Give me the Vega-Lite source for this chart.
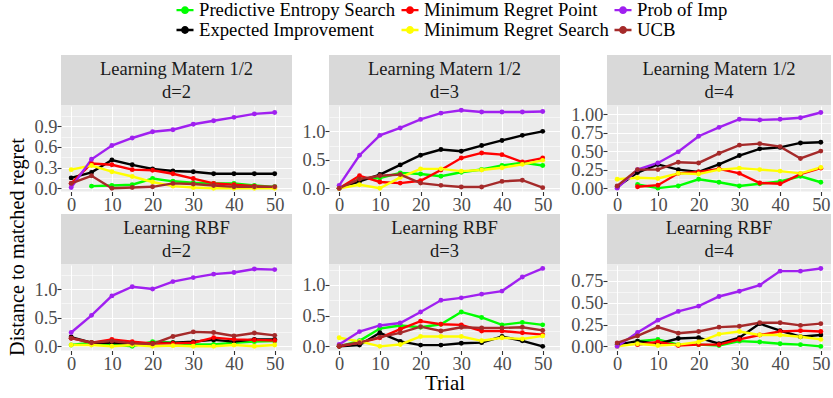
{
"$schema": "https://vega.github.io/schema/vega-lite/v6.json",
"autosize": {"type": "pad"},
"padding": {"left": 7, "top": 0, "right": 0, "bottom": 0},
"background": "#FFFFFF",
"config": {
  "font": "Liberation Serif",
  "view": {"stroke": null},
  "axis": {"domain": false, "grid": true, "gridColor": "#FFFFFF", "tickColor": "#333333", "tickSize": 4, "tickWidth": 1.1, "labelFont": "Liberation Serif", "labelFontSize": 18.4, "labelColor": "#4D4D4D", "labelPadding": 0, "labelFlush": false, "labelOverlap": false, "labelBound": false, "titleFont": "Liberation Serif", "titleFontWeight": "normal", "titleColor": "#000000", "titleFontSize": 21},
  "legend": {"orient": "none", "legendX": 168, "legendY": -55, "columns": 3, "gridAlign": "each", "columnPadding": 0, "rowPadding": 0, "labelFont": "Liberation Serif", "labelFontSize": 18.7, "labelColor": "#000000", "labelOffset": 4, "labelLimit": 0, "padding": 0, "symbolSize": 289, "symbolStrokeWidth": 2.4, "symbolType": "M-1,0L1,0M-0.32,0A0.32,0.32,0,1,1,0.32,0A0.32,0.32,0,1,1,-0.32,0Z"}
},
"data": {"values": [
{"p":"M2","m":"PES","t":5,"v":0.03},{"p":"M2","m":"PES","t":10,"v":0.04},{"p":"M2","m":"PES","t":15,"v":0.05},{"p":"M2","m":"PES","t":20,"v":0.14},{"p":"M2","m":"PES","t":25,"v":0.10},{"p":"M2","m":"PES","t":30,"v":0.08},{"p":"M2","m":"PES","t":35,"v":0.07},{"p":"M2","m":"PES","t":40,"v":0.07},{"p":"M2","m":"PES","t":45,"v":0.04},{"p":"M2","m":"PES","t":50,"v":0.02},
{"p":"M2","m":"EI","t":0,"v":0.15},{"p":"M2","m":"EI","t":5,"v":0.23},{"p":"M2","m":"EI","t":10,"v":0.41},{"p":"M2","m":"EI","t":15,"v":0.34},{"p":"M2","m":"EI","t":20,"v":0.28},{"p":"M2","m":"EI","t":25,"v":0.25},{"p":"M2","m":"EI","t":30,"v":0.24},{"p":"M2","m":"EI","t":35,"v":0.21},{"p":"M2","m":"EI","t":40,"v":0.21},{"p":"M2","m":"EI","t":45,"v":0.21},{"p":"M2","m":"EI","t":50,"v":0.21},
{"p":"M2","m":"MRP","t":0,"v":0.07},{"p":"M2","m":"MRP","t":5,"v":0.36},{"p":"M2","m":"MRP","t":10,"v":0.34},{"p":"M2","m":"MRP","t":15,"v":0.27},{"p":"M2","m":"MRP","t":20,"v":0.26},{"p":"M2","m":"MRP","t":25,"v":0.21},{"p":"M2","m":"MRP","t":30,"v":0.14},{"p":"M2","m":"MRP","t":35,"v":0.07},{"p":"M2","m":"MRP","t":40,"v":0.05},{"p":"M2","m":"MRP","t":45,"v":0.03},{"p":"M2","m":"MRP","t":50,"v":0.01},
{"p":"M2","m":"MRS","t":0,"v":0.27},{"p":"M2","m":"MRS","t":5,"v":0.33},{"p":"M2","m":"MRS","t":10,"v":0.24},{"p":"M2","m":"MRS","t":15,"v":0.17},{"p":"M2","m":"MRS","t":20,"v":0.09},{"p":"M2","m":"MRS","t":25,"v":0.03},{"p":"M2","m":"MRS","t":30,"v":0.01},{"p":"M2","m":"MRS","t":35,"v":0.0},{"p":"M2","m":"MRS","t":40,"v":0.0},{"p":"M2","m":"MRS","t":45,"v":0.0},{"p":"M2","m":"MRS","t":50,"v":0.0},
{"p":"M2","m":"PI","t":0,"v":0.01},{"p":"M2","m":"PI","t":5,"v":0.42},{"p":"M2","m":"PI","t":10,"v":0.62},{"p":"M2","m":"PI","t":15,"v":0.73},{"p":"M2","m":"PI","t":20,"v":0.82},{"p":"M2","m":"PI","t":25,"v":0.85},{"p":"M2","m":"PI","t":30,"v":0.93},{"p":"M2","m":"PI","t":35,"v":0.98},{"p":"M2","m":"PI","t":40,"v":1.03},{"p":"M2","m":"PI","t":45,"v":1.08},{"p":"M2","m":"PI","t":50,"v":1.10},
{"p":"M2","m":"UCB","t":0,"v":0.07},{"p":"M2","m":"UCB","t":5,"v":0.18},{"p":"M2","m":"UCB","t":10,"v":0.0},{"p":"M2","m":"UCB","t":15,"v":0.01},{"p":"M2","m":"UCB","t":20,"v":0.02},{"p":"M2","m":"UCB","t":25,"v":0.07},{"p":"M2","m":"UCB","t":30,"v":0.06},{"p":"M2","m":"UCB","t":35,"v":0.04},{"p":"M2","m":"UCB","t":40,"v":0.02},{"p":"M2","m":"UCB","t":45,"v":0.02},{"p":"M2","m":"UCB","t":50,"v":0.02},

{"p":"M3","m":"PES","t":0,"v":0.0},{"p":"M3","m":"PES","t":5,"v":0.16},{"p":"M3","m":"PES","t":10,"v":0.18},{"p":"M3","m":"PES","t":15,"v":0.27},{"p":"M3","m":"PES","t":20,"v":0.25},{"p":"M3","m":"PES","t":25,"v":0.21},{"p":"M3","m":"PES","t":30,"v":0.28},{"p":"M3","m":"PES","t":35,"v":0.33},{"p":"M3","m":"PES","t":40,"v":0.40},{"p":"M3","m":"PES","t":45,"v":0.45},{"p":"M3","m":"PES","t":50,"v":0.40},
{"p":"M3","m":"EI","t":0,"v":0.0},{"p":"M3","m":"EI","t":5,"v":0.12},{"p":"M3","m":"EI","t":10,"v":0.24},{"p":"M3","m":"EI","t":15,"v":0.41},{"p":"M3","m":"EI","t":20,"v":0.58},{"p":"M3","m":"EI","t":25,"v":0.68},{"p":"M3","m":"EI","t":30,"v":0.65},{"p":"M3","m":"EI","t":35,"v":0.75},{"p":"M3","m":"EI","t":40,"v":0.84},{"p":"M3","m":"EI","t":45,"v":0.93},{"p":"M3","m":"EI","t":50,"v":1.0},
{"p":"M3","m":"MRP","t":0,"v":0.0},{"p":"M3","m":"MRP","t":5,"v":0.22},{"p":"M3","m":"MRP","t":10,"v":0.11},{"p":"M3","m":"MRP","t":15,"v":0.09},{"p":"M3","m":"MRP","t":20,"v":0.13},{"p":"M3","m":"MRP","t":25,"v":0.32},{"p":"M3","m":"MRP","t":30,"v":0.53},{"p":"M3","m":"MRP","t":35,"v":0.62},{"p":"M3","m":"MRP","t":40,"v":0.59},{"p":"M3","m":"MRP","t":45,"v":0.46},{"p":"M3","m":"MRP","t":50,"v":0.53},
{"p":"M3","m":"MRS","t":0,"v":0.0},{"p":"M3","m":"MRS","t":5,"v":0.06},{"p":"M3","m":"MRS","t":10,"v":0.0},{"p":"M3","m":"MRS","t":15,"v":0.19},{"p":"M3","m":"MRS","t":20,"v":0.34},{"p":"M3","m":"MRS","t":25,"v":0.34},{"p":"M3","m":"MRS","t":30,"v":0.30},{"p":"M3","m":"MRS","t":35,"v":0.32},{"p":"M3","m":"MRS","t":40,"v":0.36},{"p":"M3","m":"MRS","t":45,"v":0.42},{"p":"M3","m":"MRS","t":50,"v":0.49},
{"p":"M3","m":"PI","t":0,"v":0.05},{"p":"M3","m":"PI","t":5,"v":0.58},{"p":"M3","m":"PI","t":10,"v":0.93},{"p":"M3","m":"PI","t":15,"v":1.06},{"p":"M3","m":"PI","t":20,"v":1.21},{"p":"M3","m":"PI","t":25,"v":1.32},{"p":"M3","m":"PI","t":30,"v":1.37},{"p":"M3","m":"PI","t":35,"v":1.34},{"p":"M3","m":"PI","t":40,"v":1.34},{"p":"M3","m":"PI","t":45,"v":1.34},{"p":"M3","m":"PI","t":50,"v":1.35},
{"p":"M3","m":"UCB","t":0,"v":0.0},{"p":"M3","m":"UCB","t":5,"v":0.16},{"p":"M3","m":"UCB","t":10,"v":0.22},{"p":"M3","m":"UCB","t":15,"v":0.24},{"p":"M3","m":"UCB","t":20,"v":0.09},{"p":"M3","m":"UCB","t":25,"v":0.05},{"p":"M3","m":"UCB","t":30,"v":0.02},{"p":"M3","m":"UCB","t":35,"v":0.02},{"p":"M3","m":"UCB","t":40,"v":0.12},{"p":"M3","m":"UCB","t":45,"v":0.14},{"p":"M3","m":"UCB","t":50,"v":0.01},

{"p":"M4","m":"PES","t":5,"v":0.05},{"p":"M4","m":"PES","t":10,"v":0.0},{"p":"M4","m":"PES","t":15,"v":0.03},{"p":"M4","m":"PES","t":20,"v":0.12},{"p":"M4","m":"PES","t":25,"v":0.08},{"p":"M4","m":"PES","t":30,"v":0.03},{"p":"M4","m":"PES","t":35,"v":0.06},{"p":"M4","m":"PES","t":40,"v":0.09},{"p":"M4","m":"PES","t":45,"v":0.16},{"p":"M4","m":"PES","t":50,"v":0.08},
{"p":"M4","m":"EI","t":0,"v":0.02},{"p":"M4","m":"EI","t":5,"v":0.21},{"p":"M4","m":"EI","t":10,"v":0.32},{"p":"M4","m":"EI","t":15,"v":0.25},{"p":"M4","m":"EI","t":20,"v":0.22},{"p":"M4","m":"EI","t":25,"v":0.32},{"p":"M4","m":"EI","t":30,"v":0.44},{"p":"M4","m":"EI","t":35,"v":0.53},{"p":"M4","m":"EI","t":40,"v":0.55},{"p":"M4","m":"EI","t":45,"v":0.61},{"p":"M4","m":"EI","t":50,"v":0.62},
{"p":"M4","m":"MRP","t":5,"v":0.02},{"p":"M4","m":"MRP","t":10,"v":0.04},{"p":"M4","m":"MRP","t":15,"v":0.20},{"p":"M4","m":"MRP","t":20,"v":0.22},{"p":"M4","m":"MRP","t":25,"v":0.26},{"p":"M4","m":"MRP","t":30,"v":0.20},{"p":"M4","m":"MRP","t":35,"v":0.07},{"p":"M4","m":"MRP","t":40,"v":0.06},{"p":"M4","m":"MRP","t":45,"v":0.19},{"p":"M4","m":"MRP","t":50,"v":0.27},
{"p":"M4","m":"MRS","t":0,"v":0.12},{"p":"M4","m":"MRS","t":5,"v":0.14},{"p":"M4","m":"MRS","t":10,"v":0.13},{"p":"M4","m":"MRS","t":15,"v":0.20},{"p":"M4","m":"MRS","t":20,"v":0.19},{"p":"M4","m":"MRS","t":25,"v":0.25},{"p":"M4","m":"MRS","t":30,"v":0.27},{"p":"M4","m":"MRS","t":35,"v":0.25},{"p":"M4","m":"MRS","t":40,"v":0.23},{"p":"M4","m":"MRS","t":45,"v":0.20},{"p":"M4","m":"MRS","t":50,"v":0.28},
{"p":"M4","m":"PI","t":0,"v":0.0},{"p":"M4","m":"PI","t":5,"v":0.25},{"p":"M4","m":"PI","t":10,"v":0.34},{"p":"M4","m":"PI","t":15,"v":0.49},{"p":"M4","m":"PI","t":20,"v":0.70},{"p":"M4","m":"PI","t":25,"v":0.82},{"p":"M4","m":"PI","t":30,"v":0.93},{"p":"M4","m":"PI","t":35,"v":0.92},{"p":"M4","m":"PI","t":40,"v":0.93},{"p":"M4","m":"PI","t":45,"v":0.95},{"p":"M4","m":"PI","t":50,"v":1.02},
{"p":"M4","m":"UCB","t":0,"v":0.03},{"p":"M4","m":"UCB","t":5,"v":0.25},{"p":"M4","m":"UCB","t":10,"v":0.25},{"p":"M4","m":"UCB","t":15,"v":0.35},{"p":"M4","m":"UCB","t":20,"v":0.34},{"p":"M4","m":"UCB","t":25,"v":0.47},{"p":"M4","m":"UCB","t":30,"v":0.58},{"p":"M4","m":"UCB","t":35,"v":0.60},{"p":"M4","m":"UCB","t":40,"v":0.56},{"p":"M4","m":"UCB","t":45,"v":0.40},{"p":"M4","m":"UCB","t":50,"v":0.50},

{"p":"R2","m":"PES","t":0,"v":0.02},{"p":"R2","m":"PES","t":5,"v":0.06},{"p":"R2","m":"PES","t":10,"v":0.03},{"p":"R2","m":"PES","t":15,"v":0.0},{"p":"R2","m":"PES","t":20,"v":0.08},{"p":"R2","m":"PES","t":25,"v":0.06},{"p":"R2","m":"PES","t":30,"v":0.03},{"p":"R2","m":"PES","t":35,"v":0.03},{"p":"R2","m":"PES","t":40,"v":0.06},{"p":"R2","m":"PES","t":45,"v":0.08},{"p":"R2","m":"PES","t":50,"v":0.09},
{"p":"R2","m":"EI","t":0,"v":0.16},{"p":"R2","m":"EI","t":5,"v":0.06},{"p":"R2","m":"EI","t":10,"v":0.06},{"p":"R2","m":"EI","t":15,"v":0.04},{"p":"R2","m":"EI","t":20,"v":0.05},{"p":"R2","m":"EI","t":25,"v":0.06},{"p":"R2","m":"EI","t":30,"v":0.08},{"p":"R2","m":"EI","t":35,"v":0.11},{"p":"R2","m":"EI","t":40,"v":0.08},{"p":"R2","m":"EI","t":45,"v":0.12},{"p":"R2","m":"EI","t":50,"v":0.12},
{"p":"R2","m":"MRP","t":0,"v":0.14},{"p":"R2","m":"MRP","t":5,"v":0.06},{"p":"R2","m":"MRP","t":10,"v":0.12},{"p":"R2","m":"MRP","t":15,"v":0.08},{"p":"R2","m":"MRP","t":20,"v":0.05},{"p":"R2","m":"MRP","t":25,"v":0.05},{"p":"R2","m":"MRP","t":30,"v":0.06},{"p":"R2","m":"MRP","t":35,"v":0.15},{"p":"R2","m":"MRP","t":40,"v":0.12},{"p":"R2","m":"MRP","t":45,"v":0.11},{"p":"R2","m":"MRP","t":50,"v":0.10},
{"p":"R2","m":"MRS","t":0,"v":0.02},{"p":"R2","m":"MRS","t":5,"v":0.02},{"p":"R2","m":"MRS","t":10,"v":0.0},{"p":"R2","m":"MRS","t":15,"v":0.02},{"p":"R2","m":"MRS","t":20,"v":0.0},{"p":"R2","m":"MRS","t":25,"v":0.01},{"p":"R2","m":"MRS","t":30,"v":0.0},{"p":"R2","m":"MRS","t":35,"v":0.0},{"p":"R2","m":"MRS","t":40,"v":0.02},{"p":"R2","m":"MRS","t":45,"v":0.0},{"p":"R2","m":"MRS","t":50,"v":0.02},
{"p":"R2","m":"PI","t":0,"v":0.24},{"p":"R2","m":"PI","t":5,"v":0.54},{"p":"R2","m":"PI","t":10,"v":0.88},{"p":"R2","m":"PI","t":15,"v":1.04},{"p":"R2","m":"PI","t":20,"v":1.0},{"p":"R2","m":"PI","t":25,"v":1.13},{"p":"R2","m":"PI","t":30,"v":1.2},{"p":"R2","m":"PI","t":35,"v":1.26},{"p":"R2","m":"PI","t":40,"v":1.29},{"p":"R2","m":"PI","t":45,"v":1.35},{"p":"R2","m":"PI","t":50,"v":1.34},
{"p":"R2","m":"UCB","t":0,"v":0.14},{"p":"R2","m":"UCB","t":5,"v":0.06},{"p":"R2","m":"UCB","t":10,"v":0.09},{"p":"R2","m":"UCB","t":15,"v":0.05},{"p":"R2","m":"UCB","t":20,"v":0.04},{"p":"R2","m":"UCB","t":25,"v":0.17},{"p":"R2","m":"UCB","t":30,"v":0.25},{"p":"R2","m":"UCB","t":35,"v":0.24},{"p":"R2","m":"UCB","t":40,"v":0.18},{"p":"R2","m":"UCB","t":45,"v":0.23},{"p":"R2","m":"UCB","t":50,"v":0.19},

{"p":"R3","m":"PES","t":0,"v":0.0},{"p":"R3","m":"PES","t":5,"v":0.09},{"p":"R3","m":"PES","t":10,"v":0.29},{"p":"R3","m":"PES","t":15,"v":0.34},{"p":"R3","m":"PES","t":20,"v":0.31},{"p":"R3","m":"PES","t":25,"v":0.36},{"p":"R3","m":"PES","t":30,"v":0.56},{"p":"R3","m":"PES","t":35,"v":0.47},{"p":"R3","m":"PES","t":40,"v":0.35},{"p":"R3","m":"PES","t":45,"v":0.39},{"p":"R3","m":"PES","t":50,"v":0.35},
{"p":"R3","m":"EI","t":0,"v":0.0},{"p":"R3","m":"EI","t":5,"v":0.02},{"p":"R3","m":"EI","t":10,"v":0.22},{"p":"R3","m":"EI","t":15,"v":0.08},{"p":"R3","m":"EI","t":20,"v":0.02},{"p":"R3","m":"EI","t":25,"v":0.02},{"p":"R3","m":"EI","t":30,"v":0.05},{"p":"R3","m":"EI","t":35,"v":0.06},{"p":"R3","m":"EI","t":40,"v":0.16},{"p":"R3","m":"EI","t":45,"v":0.09},{"p":"R3","m":"EI","t":50,"v":0.0},
{"p":"R3","m":"MRP","t":0,"v":0.0},{"p":"R3","m":"MRP","t":5,"v":0.06},{"p":"R3","m":"MRP","t":10,"v":0.14},{"p":"R3","m":"MRP","t":15,"v":0.28},{"p":"R3","m":"MRP","t":20,"v":0.41},{"p":"R3","m":"MRP","t":25,"v":0.36},{"p":"R3","m":"MRP","t":30,"v":0.35},{"p":"R3","m":"MRP","t":35,"v":0.25},{"p":"R3","m":"MRP","t":40,"v":0.25},{"p":"R3","m":"MRP","t":45,"v":0.22},{"p":"R3","m":"MRP","t":50,"v":0.19},
{"p":"R3","m":"MRS","t":0,"v":0.14},{"p":"R3","m":"MRS","t":5,"v":0.08},{"p":"R3","m":"MRS","t":10,"v":0.0},{"p":"R3","m":"MRS","t":15,"v":0.03},{"p":"R3","m":"MRS","t":20,"v":0.16},{"p":"R3","m":"MRS","t":25,"v":0.16},{"p":"R3","m":"MRS","t":30,"v":0.16},{"p":"R3","m":"MRS","t":35,"v":0.09},{"p":"R3","m":"MRS","t":40,"v":0.14},{"p":"R3","m":"MRS","t":45,"v":0.12},{"p":"R3","m":"MRS","t":50,"v":0.17},
{"p":"R3","m":"PI","t":0,"v":0.03},{"p":"R3","m":"PI","t":5,"v":0.24},{"p":"R3","m":"PI","t":10,"v":0.34},{"p":"R3","m":"PI","t":15,"v":0.38},{"p":"R3","m":"PI","t":20,"v":0.56},{"p":"R3","m":"PI","t":25,"v":0.75},{"p":"R3","m":"PI","t":30,"v":0.79},{"p":"R3","m":"PI","t":35,"v":0.85},{"p":"R3","m":"PI","t":40,"v":0.90},{"p":"R3","m":"PI","t":45,"v":1.13},{"p":"R3","m":"PI","t":50,"v":1.27},
{"p":"R3","m":"UCB","t":0,"v":0.01},{"p":"R3","m":"UCB","t":5,"v":0.06},{"p":"R3","m":"UCB","t":10,"v":0.15},{"p":"R3","m":"UCB","t":15,"v":0.22},{"p":"R3","m":"UCB","t":20,"v":0.32},{"p":"R3","m":"UCB","t":25,"v":0.25},{"p":"R3","m":"UCB","t":30,"v":0.31},{"p":"R3","m":"UCB","t":35,"v":0.30},{"p":"R3","m":"UCB","t":40,"v":0.30},{"p":"R3","m":"UCB","t":45,"v":0.31},{"p":"R3","m":"UCB","t":50,"v":0.26},

{"p":"R4","m":"PES","t":5,"v":0.06},{"p":"R4","m":"PES","t":10,"v":0.08},{"p":"R4","m":"PES","t":15,"v":0.02},{"p":"R4","m":"PES","t":20,"v":0.02},{"p":"R4","m":"PES","t":25,"v":0.01},{"p":"R4","m":"PES","t":30,"v":0.06},{"p":"R4","m":"PES","t":35,"v":0.05},{"p":"R4","m":"PES","t":40,"v":0.03},{"p":"R4","m":"PES","t":45,"v":0.02},{"p":"R4","m":"PES","t":50,"v":0.0},
{"p":"R4","m":"EI","t":0,"v":0.02},{"p":"R4","m":"EI","t":5,"v":0.06},{"p":"R4","m":"EI","t":10,"v":0.03},{"p":"R4","m":"EI","t":15,"v":0.09},{"p":"R4","m":"EI","t":20,"v":0.10},{"p":"R4","m":"EI","t":25,"v":0.03},{"p":"R4","m":"EI","t":30,"v":0.10},{"p":"R4","m":"EI","t":35,"v":0.26},{"p":"R4","m":"EI","t":40,"v":0.18},{"p":"R4","m":"EI","t":45,"v":0.11},{"p":"R4","m":"EI","t":50,"v":0.13},
{"p":"R4","m":"MRP","t":5,"v":0.02},{"p":"R4","m":"MRP","t":10,"v":0.05},{"p":"R4","m":"MRP","t":15,"v":0.01},{"p":"R4","m":"MRP","t":20,"v":0.02},{"p":"R4","m":"MRP","t":25,"v":0.02},{"p":"R4","m":"MRP","t":30,"v":0.08},{"p":"R4","m":"MRP","t":35,"v":0.13},{"p":"R4","m":"MRP","t":40,"v":0.17},{"p":"R4","m":"MRP","t":45,"v":0.18},{"p":"R4","m":"MRP","t":50,"v":0.17},
{"p":"R4","m":"MRS","t":0,"v":0.0},{"p":"R4","m":"MRS","t":5,"v":0.03},{"p":"R4","m":"MRS","t":10,"v":0.01},{"p":"R4","m":"MRS","t":15,"v":0.02},{"p":"R4","m":"MRS","t":20,"v":0.05},{"p":"R4","m":"MRS","t":25,"v":0.14},{"p":"R4","m":"MRS","t":30,"v":0.17},{"p":"R4","m":"MRS","t":35,"v":0.13},{"p":"R4","m":"MRS","t":40,"v":0.13},{"p":"R4","m":"MRS","t":45,"v":0.11},{"p":"R4","m":"MRS","t":50,"v":0.08},
{"p":"R4","m":"PI","t":0,"v":0.0},{"p":"R4","m":"PI","t":5,"v":0.16},{"p":"R4","m":"PI","t":10,"v":0.30},{"p":"R4","m":"PI","t":15,"v":0.40},{"p":"R4","m":"PI","t":20,"v":0.46},{"p":"R4","m":"PI","t":25,"v":0.57},{"p":"R4","m":"PI","t":30,"v":0.63},{"p":"R4","m":"PI","t":35,"v":0.70},{"p":"R4","m":"PI","t":40,"v":0.86},{"p":"R4","m":"PI","t":45,"v":0.86},{"p":"R4","m":"PI","t":50,"v":0.89},
{"p":"R4","m":"UCB","t":0,"v":0.04},{"p":"R4","m":"UCB","t":5,"v":0.12},{"p":"R4","m":"UCB","t":10,"v":0.22},{"p":"R4","m":"UCB","t":15,"v":0.15},{"p":"R4","m":"UCB","t":20,"v":0.17},{"p":"R4","m":"UCB","t":25,"v":0.22},{"p":"R4","m":"UCB","t":30,"v":0.23},{"p":"R4","m":"UCB","t":35,"v":0.27},{"p":"R4","m":"UCB","t":40,"v":0.27},{"p":"R4","m":"UCB","t":45,"v":0.24},{"p":"R4","m":"UCB","t":50,"v":0.26}
]},
"spacing": 5,
"hconcat": [
 {"width": 22, "height": 318, "view": {"fill": "#FFFFFF", "stroke": null},
  "data": {"values": [{"label": "Distance to matched regret"}]},
  "mark": {"type": "text", "angle": 270, "fontSize": 20.3, "font": "Liberation Serif", "color": "#000000", "baseline": "middle", "align": "center", "dx": -33},
  "encoding": {"text": {"field": "label"}}},
 {"spacing": 0, "vconcat": [
  {"spacing": 10, "hconcat": [
   {"bounds": "flush", "spacing": 0, "vconcat": [
     {"width": 231, "height": 50.5, "view": {"fill": "#D9D9D9", "stroke": null}, "data": {"values": [{"label": "Learning Matern 1/2\nd=2"}]},
      "mark": {"type": "text", "lineBreak": "\n", "fontSize": 18.5, "font": "Liberation Serif", "color": "#1A1A1A", "lineHeight": 23, "baseline": "middle", "dy": -11.5}, "encoding": {"text": {"field": "label"}}},
     {"width": 231, "height": 85.5, "view": {"fill": "#EBEBEB", "stroke": null},
      "transform": [{"filter": "datum.p === 'M2'"}],
      "encoding": {
        "x": {"field": "t", "type": "quantitative", "scale": {"domain": [-2.5, 54.25], "nice": false, "zero": false}, "axis": {"title": null, "values": [0,5,10,15,20,25,30,35,40,45,50], "format": "d", "labelExpr": "datum.value % 10 === 0 ? datum.label : ''", "gridWidth": {"condition": {"test": "datum.value % 10 === 0", "value": 1.1}, "value": 0.55}, "tickOpacity": {"condition": {"test": "datum.value % 10 === 0", "value": 1}, "value": 0}}},
        "y": {"field": "v", "type": "quantitative", "scale": {"domain": [-0.048, 1.195], "nice": false, "zero": false}, "axis": {"title": null, "values": [0,0.15,0.3,0.45,0.6,0.75,0.9,1.05], "format": ".1f", "labelExpr": "round(datum.value*100) % 30 === 0 ? datum.label : ''", "gridWidth": {"condition": {"test": "round(datum.value*100) % 30 === 0", "value": 1.1}, "value": 0.55}, "tickOpacity": {"condition": {"test": "round(datum.value*100) % 30 === 0", "value": 1}, "value": 0}}},
        "color": {"field": "m", "type": "nominal", "scale": {"domain": ["PES","EI","MRP","MRS","PI","UCB"], "range": ["#00FF00","#000000","#FF0000","#FFFF00","#A020F0","#A52A2A"]}, "legend": {"title": null, "labelExpr": "datum.label == 'PES' ? 'Predictive Entropy Search' : datum.label == 'EI' ? 'Expected Improvement' : datum.label == 'MRP' ? 'Minimum Regret Point' : datum.label == 'MRS' ? 'Minimum Regret Search' : datum.label == 'PI' ? 'Prob of Imp' : 'UCB'", "encode": {"symbols": {"update": {"fill": {"scale": "color", "field": "value"}, "stroke": {"scale": "color", "field": "value"}, "opacity": {"value": 1}}}}}}
      },
      "layer": [{"mark": {"type": "line", "strokeWidth": 2.4}}, {"mark": {"type": "point", "filled": true, "size": 24, "opacity": 1}}]}
   ]},
   {"bounds": "flush", "spacing": 0, "vconcat": [
     {"width": 231, "height": 50.5, "view": {"fill": "#D9D9D9", "stroke": null}, "data": {"values": [{"label": "Learning Matern 1/2\nd=3"}]},
      "mark": {"type": "text", "lineBreak": "\n", "fontSize": 18.5, "font": "Liberation Serif", "color": "#1A1A1A", "lineHeight": 23, "baseline": "middle", "dy": -11.5}, "encoding": {"text": {"field": "label"}}},
     {"width": 231, "height": 85.5, "view": {"fill": "#EBEBEB", "stroke": null},
      "transform": [{"filter": "datum.p === 'M3'"}],
      "encoding": {
        "x": {"field": "t", "type": "quantitative", "scale": {"domain": [-2.5, 54.25], "nice": false, "zero": false}, "axis": {"title": null, "values": [0,5,10,15,20,25,30,35,40,45,50], "format": "d", "labelExpr": "datum.value % 10 === 0 ? datum.label : ''", "gridWidth": {"condition": {"test": "datum.value % 10 === 0", "value": 1.1}, "value": 0.55}, "tickOpacity": {"condition": {"test": "datum.value % 10 === 0", "value": 1}, "value": 0}}},
        "y": {"field": "v", "type": "quantitative", "scale": {"domain": [-0.058, 1.446], "nice": false, "zero": false}, "axis": {"title": null, "values": [0,0.25,0.5,0.75,1,1.25], "format": ".1f", "labelExpr": "round(datum.value*100) % 50 === 0 ? datum.label : ''", "gridWidth": {"condition": {"test": "round(datum.value*100) % 50 === 0", "value": 1.1}, "value": 0.55}, "tickOpacity": {"condition": {"test": "round(datum.value*100) % 50 === 0", "value": 1}, "value": 0}}},
        "color": {"field": "m", "type": "nominal", "scale": {"domain": ["PES","EI","MRP","MRS","PI","UCB"], "range": ["#00FF00","#000000","#FF0000","#FFFF00","#A020F0","#A52A2A"]}, "legend": {"title": null, "labelExpr": "datum.label == 'PES' ? 'Predictive Entropy Search' : datum.label == 'EI' ? 'Expected Improvement' : datum.label == 'MRP' ? 'Minimum Regret Point' : datum.label == 'MRS' ? 'Minimum Regret Search' : datum.label == 'PI' ? 'Prob of Imp' : 'UCB'", "encode": {"symbols": {"update": {"fill": {"scale": "color", "field": "value"}, "stroke": {"scale": "color", "field": "value"}, "opacity": {"value": 1}}}}}}
      },
      "layer": [{"mark": {"type": "line", "strokeWidth": 2.4}}, {"mark": {"type": "point", "filled": true, "size": 24, "opacity": 1}}]}
   ]},
   {"bounds": "flush", "spacing": 0, "vconcat": [
     {"width": 224, "height": 50.5, "view": {"fill": "#D9D9D9", "stroke": null}, "data": {"values": [{"label": "Learning Matern 1/2\nd=4"}]},
      "mark": {"type": "text", "lineBreak": "\n", "fontSize": 18.5, "font": "Liberation Serif", "color": "#1A1A1A", "lineHeight": 23, "baseline": "middle", "dy": -11.5}, "encoding": {"text": {"field": "label"}}},
     {"width": 224, "height": 85.5, "view": {"fill": "#EBEBEB", "stroke": null},
      "transform": [{"filter": "datum.p === 'M4'"}],
      "encoding": {
        "x": {"field": "t", "type": "quantitative", "scale": {"domain": [-2.5, 52.5], "nice": false, "zero": false}, "axis": {"title": null, "values": [0,5,10,15,20,25,30,35,40,45,50], "format": "d", "labelExpr": "datum.value % 10 === 0 ? datum.label : ''", "gridWidth": {"condition": {"test": "datum.value % 10 === 0", "value": 1.1}, "value": 0.55}, "tickOpacity": {"condition": {"test": "datum.value % 10 === 0", "value": 1}, "value": 0}}},
        "y": {"field": "v", "type": "quantitative", "scale": {"domain": [-0.045, 1.108], "nice": false, "zero": false}, "axis": {"title": null, "values": [0,0.125,0.25,0.375,0.5,0.625,0.75,0.875,1.0], "format": ".2f", "labelExpr": "round(datum.value*1000) % 250 === 0 ? datum.label : ''", "gridWidth": {"condition": {"test": "round(datum.value*1000) % 250 === 0", "value": 1.1}, "value": 0.55}, "tickOpacity": {"condition": {"test": "round(datum.value*1000) % 250 === 0", "value": 1}, "value": 0}}},
        "color": {"field": "m", "type": "nominal", "scale": {"domain": ["PES","EI","MRP","MRS","PI","UCB"], "range": ["#00FF00","#000000","#FF0000","#FFFF00","#A020F0","#A52A2A"]}, "legend": {"title": null, "labelExpr": "datum.label == 'PES' ? 'Predictive Entropy Search' : datum.label == 'EI' ? 'Expected Improvement' : datum.label == 'MRP' ? 'Minimum Regret Point' : datum.label == 'MRS' ? 'Minimum Regret Search' : datum.label == 'PI' ? 'Prob of Imp' : 'UCB'", "encode": {"symbols": {"update": {"fill": {"scale": "color", "field": "value"}, "stroke": {"scale": "color", "field": "value"}, "opacity": {"value": 1}}}}}}
      },
      "layer": [{"mark": {"type": "line", "strokeWidth": 2.4}}, {"mark": {"type": "point", "filled": true, "size": 24, "opacity": 1}}]}
   ]}
  ]},
  {"spacing": 10, "hconcat": [
   {"bounds": "flush", "spacing": 0, "vconcat": [
     {"width": 231, "height": 50.5, "view": {"fill": "#D9D9D9", "stroke": null}, "data": {"values": [{"label": "Learning RBF\nd=2"}]},
      "mark": {"type": "text", "lineBreak": "\n", "fontSize": 18.5, "font": "Liberation Serif", "color": "#1A1A1A", "lineHeight": 23, "baseline": "middle", "dy": -11.5}, "encoding": {"text": {"field": "label"}}},
     {"width": 231, "height": 85.5, "view": {"fill": "#EBEBEB", "stroke": null},
      "transform": [{"filter": "datum.p === 'R2'"}],
      "encoding": {
        "x": {"field": "t", "type": "quantitative", "scale": {"domain": [-2.5, 54.25], "nice": false, "zero": false}, "axis": {"title": null, "values": [0,5,10,15,20,25,30,35,40,45,50], "format": "d", "labelExpr": "datum.value % 10 === 0 ? datum.label : ''", "gridWidth": {"condition": {"test": "datum.value % 10 === 0", "value": 1.1}, "value": 0.55}, "tickOpacity": {"condition": {"test": "datum.value % 10 === 0", "value": 1}, "value": 0}}},
        "y": {"field": "v", "type": "quantitative", "scale": {"domain": [-0.075, 1.42], "nice": false, "zero": false}, "axis": {"title": null, "values": [0,0.25,0.5,0.75,1,1.25], "format": ".1f", "labelExpr": "round(datum.value*100) % 50 === 0 ? datum.label : ''", "gridWidth": {"condition": {"test": "round(datum.value*100) % 50 === 0", "value": 1.1}, "value": 0.55}, "tickOpacity": {"condition": {"test": "round(datum.value*100) % 50 === 0", "value": 1}, "value": 0}}},
        "color": {"field": "m", "type": "nominal", "scale": {"domain": ["PES","EI","MRP","MRS","PI","UCB"], "range": ["#00FF00","#000000","#FF0000","#FFFF00","#A020F0","#A52A2A"]}, "legend": {"title": null, "labelExpr": "datum.label == 'PES' ? 'Predictive Entropy Search' : datum.label == 'EI' ? 'Expected Improvement' : datum.label == 'MRP' ? 'Minimum Regret Point' : datum.label == 'MRS' ? 'Minimum Regret Search' : datum.label == 'PI' ? 'Prob of Imp' : 'UCB'", "encode": {"symbols": {"update": {"fill": {"scale": "color", "field": "value"}, "stroke": {"scale": "color", "field": "value"}, "opacity": {"value": 1}}}}}}
      },
      "layer": [{"mark": {"type": "line", "strokeWidth": 2.4}}, {"mark": {"type": "point", "filled": true, "size": 24, "opacity": 1}}]}
   ]},
   {"bounds": "flush", "spacing": 0, "vconcat": [
     {"width": 231, "height": 50.5, "view": {"fill": "#D9D9D9", "stroke": null}, "data": {"values": [{"label": "Learning RBF\nd=3"}]},
      "mark": {"type": "text", "lineBreak": "\n", "fontSize": 18.5, "font": "Liberation Serif", "color": "#1A1A1A", "lineHeight": 23, "baseline": "middle", "dy": -11.5}, "encoding": {"text": {"field": "label"}}},
     {"width": 231, "height": 85.5, "view": {"fill": "#EBEBEB", "stroke": null},
      "transform": [{"filter": "datum.p === 'R3'"}],
      "encoding": {
        "x": {"field": "t", "type": "quantitative", "scale": {"domain": [-2.5, 54.25], "nice": false, "zero": false}, "axis": {"title": "Trial", "titlePadding": 0, "values": [0,5,10,15,20,25,30,35,40,45,50], "format": "d", "labelExpr": "datum.value % 10 === 0 ? datum.label : ''", "gridWidth": {"condition": {"test": "datum.value % 10 === 0", "value": 1.1}, "value": 0.55}, "tickOpacity": {"condition": {"test": "datum.value % 10 === 0", "value": 1}, "value": 0}}},
        "y": {"field": "v", "type": "quantitative", "scale": {"domain": [-0.068, 1.325], "nice": false, "zero": false}, "axis": {"title": null, "values": [0,0.25,0.5,0.75,1,1.25], "format": ".1f", "labelExpr": "round(datum.value*100) % 50 === 0 ? datum.label : ''", "gridWidth": {"condition": {"test": "round(datum.value*100) % 50 === 0", "value": 1.1}, "value": 0.55}, "tickOpacity": {"condition": {"test": "round(datum.value*100) % 50 === 0", "value": 1}, "value": 0}}},
        "color": {"field": "m", "type": "nominal", "scale": {"domain": ["PES","EI","MRP","MRS","PI","UCB"], "range": ["#00FF00","#000000","#FF0000","#FFFF00","#A020F0","#A52A2A"]}, "legend": {"title": null, "labelExpr": "datum.label == 'PES' ? 'Predictive Entropy Search' : datum.label == 'EI' ? 'Expected Improvement' : datum.label == 'MRP' ? 'Minimum Regret Point' : datum.label == 'MRS' ? 'Minimum Regret Search' : datum.label == 'PI' ? 'Prob of Imp' : 'UCB'", "encode": {"symbols": {"update": {"fill": {"scale": "color", "field": "value"}, "stroke": {"scale": "color", "field": "value"}, "opacity": {"value": 1}}}}}}
      },
      "layer": [{"mark": {"type": "line", "strokeWidth": 2.4}}, {"mark": {"type": "point", "filled": true, "size": 24, "opacity": 1}}]}
   ]},
   {"bounds": "flush", "spacing": 0, "vconcat": [
     {"width": 224, "height": 50.5, "view": {"fill": "#D9D9D9", "stroke": null}, "data": {"values": [{"label": "Learning RBF\nd=4"}]},
      "mark": {"type": "text", "lineBreak": "\n", "fontSize": 18.5, "font": "Liberation Serif", "color": "#1A1A1A", "lineHeight": 23, "baseline": "middle", "dy": -11.5}, "encoding": {"text": {"field": "label"}}},
     {"width": 224, "height": 85.5, "view": {"fill": "#EBEBEB", "stroke": null},
      "transform": [{"filter": "datum.p === 'R4'"}],
      "encoding": {
        "x": {"field": "t", "type": "quantitative", "scale": {"domain": [-2.5, 52.5], "nice": false, "zero": false}, "axis": {"title": null, "values": [0,5,10,15,20,25,30,35,40,45,50], "format": "d", "labelExpr": "datum.value % 10 === 0 ? datum.label : ''", "gridWidth": {"condition": {"test": "datum.value % 10 === 0", "value": 1.1}, "value": 0.55}, "tickOpacity": {"condition": {"test": "datum.value % 10 === 0", "value": 1}, "value": 0}}},
        "y": {"field": "v", "type": "quantitative", "scale": {"domain": [-0.047, 0.93], "nice": false, "zero": false}, "axis": {"title": null, "values": [0,0.125,0.25,0.375,0.5,0.625,0.75,0.875], "format": ".2f", "labelExpr": "round(datum.value*1000) % 250 === 0 ? datum.label : ''", "gridWidth": {"condition": {"test": "round(datum.value*1000) % 250 === 0", "value": 1.1}, "value": 0.55}, "tickOpacity": {"condition": {"test": "round(datum.value*1000) % 250 === 0", "value": 1}, "value": 0}}},
        "color": {"field": "m", "type": "nominal", "scale": {"domain": ["PES","EI","MRP","MRS","PI","UCB"], "range": ["#00FF00","#000000","#FF0000","#FFFF00","#A020F0","#A52A2A"]}, "legend": {"title": null, "labelExpr": "datum.label == 'PES' ? 'Predictive Entropy Search' : datum.label == 'EI' ? 'Expected Improvement' : datum.label == 'MRP' ? 'Minimum Regret Point' : datum.label == 'MRS' ? 'Minimum Regret Search' : datum.label == 'PI' ? 'Prob of Imp' : 'UCB'", "encode": {"symbols": {"update": {"fill": {"scale": "color", "field": "value"}, "stroke": {"scale": "color", "field": "value"}, "opacity": {"value": 1}}}}}}
      },
      "layer": [{"mark": {"type": "line", "strokeWidth": 2.4}}, {"mark": {"type": "point", "filled": true, "size": 24, "opacity": 1}}]}
   ]}
  ]}
 ]}
]
}
